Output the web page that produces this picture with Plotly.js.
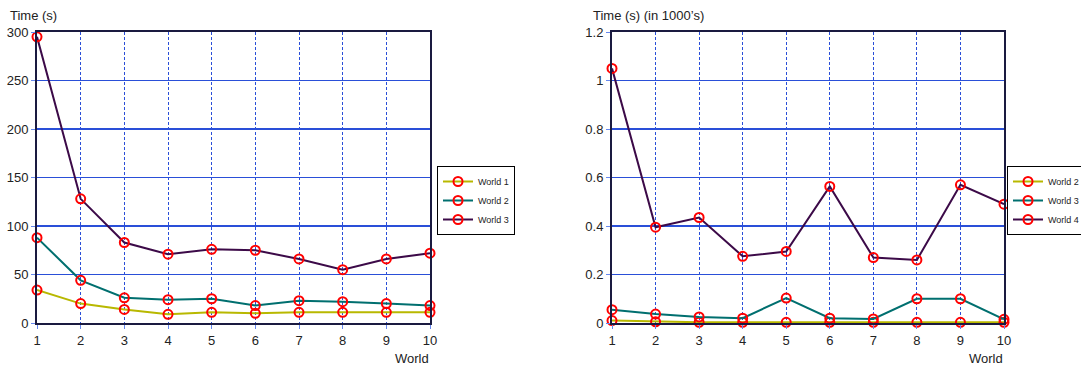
<!DOCTYPE html>
<html><head><meta charset="utf-8">
<script src="https://cdn.plot.ly/plotly-3.0.1.min.js"></script>
<style>html,body{margin:0;padding:0;background:#fff}#c{width:1081px;height:369px}</style>
</head><body><div id="c"></div>
<script>
const worlds = [1,2,3,4,5,6,7,8,9,10];
const leftWorld1 = [34,20,14,9,11,10,11,11,11,11];
const leftWorld2 = [88,44,26,24,25,18,23,22,20,18];
const leftWorld3 = [295,128,83,71,76,75,66,55,66,72];
const rightWorld2 = [0.010,0.005,0.003,0.003,0.003,0.003,0.003,0.003,0.003,0.003];
const rightWorld3 = [0.055,0.037,0.025,0.020,0.103,0.020,0.017,0.100,0.100,0.015];
const rightWorld4 = [1.05,0.395,0.435,0.275,0.295,0.563,0.270,0.260,0.570,0.490];

const cYellow = '#b8b800', cTeal = '#006f6f', cPurple = '#3c0a48';
function tr(name, y, color, xa, ya, leg){
  return {x: worlds, y: y, name: name, type:'scatter', mode:'lines+markers',
    xaxis: xa, yaxis: ya, legend: leg, cliponaxis:false,
    line:{color: color, width:2},
    marker:{symbol:'circle-open', color:'#ff0000', size:9, line:{width:2, color:'#ff0000'}}};
}
const data = [
  tr('World 1', leftWorld1, cYellow, 'x', 'y', 'legend'),
  tr('World 2', leftWorld2, cTeal, 'x', 'y', 'legend'),
  tr('World 3', leftWorld3, cPurple, 'x', 'y', 'legend'),
  tr('World 2', rightWorld2, cYellow, 'x2', 'y2', 'legend2'),
  tr('World 3', rightWorld3, cTeal, 'x2', 'y2', 'legend2'),
  tr('World 4', rightWorld4, cPurple, 'x2', 'y2', 'legend2')
];
const tf = {family:'Liberation Sans, Arial, sans-serif', size:13, color:'#222'};
function xax(dom){ return {domain: dom, range:[1,10], tickvals: worlds, showgrid:true, gridcolor:'#2a4fd8', griddash:'3px,2px', gridwidth:1,
  showline:true, mirror:true, linecolor:'#1a1a40', linewidth:2, ticks:'outside', ticklen:4, tickcolor:'#6688ee',
  tickfont: tf, zeroline:false, fixedrange:true}; }
function yax(rng, dt, anchor){ return {domain:[0,1], range: rng, dtick: dt, anchor: anchor, showgrid:true, gridcolor:'#2a4fd8', gridwidth:1.2,
  showline:true, mirror:true, linecolor:'#1a1a40', linewidth:2, ticks:'outside', ticklen:4, tickcolor:'#6688ee',
  tickfont: tf, zeroline:false, fixedrange:true}; }
const legStyle = {bordercolor:'#000', borderwidth:1, bgcolor:'#fff', font:{family:'Liberation Sans, Arial, sans-serif', size:9, color:'#222'},
  xanchor:'left', yanchor:'top', tracegroupgap:0, itemwidth:30};
const layout = {
  width:1081, height:369, margin:{l:0, r:0, t:32, b:46, autoexpand:false}, showlegend:true,
  paper_bgcolor:'#fff', plot_bgcolor:'#fff',
  xaxis: xax([37/1081, 430/1081]),
  yaxis: yax([0,300], 50, 'x'),
  xaxis2: Object.assign(xax([612/1081, 1004/1081]), {anchor:'y2'}),
  yaxis2: yax([0,1.2], 0.2, 'x2'),
  legend: Object.assign({x:437/1081, y:(323-166)/291}, legStyle),
  legend2: Object.assign({x:1007/1081, y:(323-166)/291}, legStyle),
  annotations:[
    {text:'Time (s)', xref:'paper', yref:'paper', x:8/1081, y:(323-16)/291, xanchor:'left', yanchor:'middle', showarrow:false, font:tf},
    {text:'World', xref:'paper', yref:'paper', x:431/1081, y:(323-358)/291, xanchor:'right', yanchor:'middle', showarrow:false, font:tf},
    {text:'Time (s) (in 1000\u2019s)', xref:'paper', yref:'paper', x:591/1081, y:(323-16)/291, xanchor:'left', yanchor:'middle', showarrow:false, font:tf},
    {text:'World', xref:'paper', yref:'paper', x:1005/1081, y:(323-358)/291, xanchor:'right', yanchor:'middle', showarrow:false, font:tf}
  ]
};
Plotly.newPlot('c', data, layout, {displayModeBar:false, staticPlot:true});
</script></body></html>
